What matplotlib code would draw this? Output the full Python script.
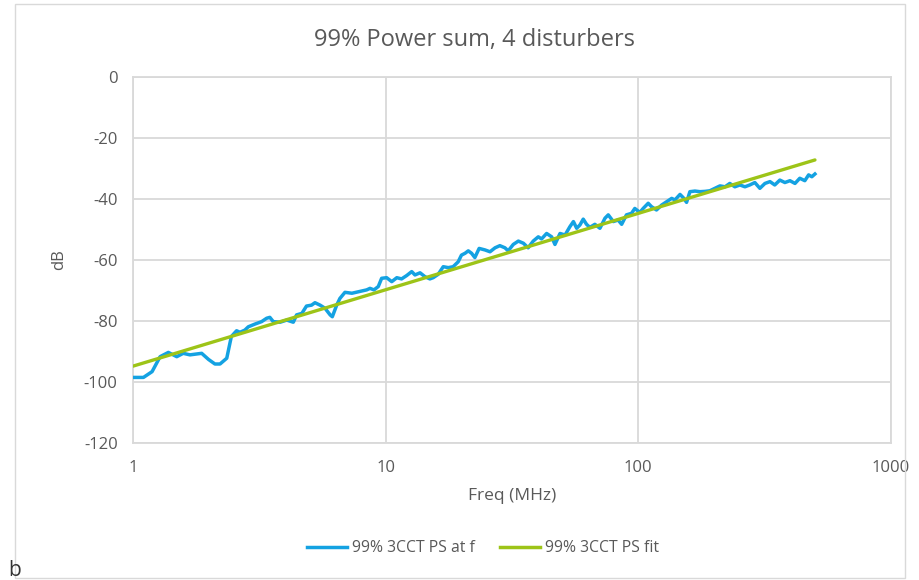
import matplotlib
matplotlib.use("Agg")
import matplotlib.pyplot as plt
from matplotlib.patches import Rectangle
from matplotlib.lines import Line2D

plt.rcParams['font.family'] = ['Open Sans', 'DejaVu Sans']
plt.rcParams['axes.unicode_minus'] = False

title = "99% Power sum, 4 disturbers"
x_label = "Freq (MHz)"
y_label = "dB"
series_names = ["99% 3CCT PS at f", "99% 3CCT PS fit"]

freq_mhz = [1.00, 1.10, 1.19, 1.28, 1.38, 1.49, 1.58, 1.68, 1.87, 1.99, 2.11, 2.21,
            2.35, 2.45, 2.57, 2.65, 2.77, 2.86, 3.04, 3.23, 3.38, 3.48, 3.59, 3.82,
            4.06, 4.31, 4.44, 4.66, 4.86, 5.09, 5.25, 5.50, 5.75, 6.03, 6.15, 6.40,
            6.59, 6.90, 7.35, 7.80, 8.41, 8.67, 8.99, 9.35, 9.64, 10.09, 10.57, 11.07,
            11.56, 12.11, 12.68, 13.06, 13.68, 14.32, 14.96, 15.42, 16.14, 16.90, 17.70,
            18.49, 19.36, 19.95, 20.61, 21.23, 21.88, 22.54, 23.44, 24.72, 25.88, 27.10,
            28.31, 29.65, 30.55, 31.99, 33.50, 35.08, 36.64, 38.37, 40.18, 41.40, 43.35,
            45.39, 46.77, 48.98, 51.29, 53.58, 55.34, 57.02, 58.75, 60.53, 62.37, 64.27,
            67.30, 70.47, 73.79, 76.03, 79.62, 83.18, 85.90, 89.74, 93.97, 96.83, 101.4,
            104.5, 109.4, 112.7, 118.0, 123.6, 129.4, 135.5, 139.6, 146.2, 150.7, 155.2,
            160.0, 167.5, 175.4, 183.7, 191.9, 200.9, 210.4, 220.3, 230.1, 241.0, 252.3,
            264.2, 276.1, 289.1, 302.7, 317.0, 331.9, 346.7, 363.1, 380.2, 398.1, 416.9,
            435.5, 456.0, 472.0, 486.0, 500.0]
ps_db = [-98.5, -98.5, -96.6, -91.7, -90.3, -91.7, -90.6, -91.1, -90.6, -92.6, -94.1, -94.1,
         -92.2, -85.1, -83.2, -83.7, -83.0, -81.9, -81.0, -80.2, -79.1, -78.8, -80.2, -80.4,
         -79.7, -80.4, -78.0, -77.5, -75.1, -74.8, -74.0, -74.8, -75.8, -78.0, -78.6, -74.8,
         -72.6, -70.6, -70.9, -70.4, -69.8, -69.3, -69.8, -68.7, -66.0, -65.8, -67.1, -65.8,
         -66.2, -65.1, -63.8, -64.9, -64.2, -65.5, -66.2, -65.8, -64.7, -62.2, -62.5,
         -62.2, -60.6, -58.4, -57.8, -57.0, -57.8, -59.2, -56.2, -56.7, -57.3, -56.0,
         -55.3, -56.0, -57.0, -54.9, -53.8, -54.5, -56.0, -53.8, -52.4, -53.1, -51.3,
         -52.4, -54.9, -51.3, -51.8, -49.1, -47.4, -49.6, -48.5, -46.6, -48.3, -49.3,
         -48.3, -49.6, -46.3, -45.2, -47.4, -46.9, -48.3, -45.2, -44.7, -43.1, -44.4,
         -43.1, -41.4, -42.5, -43.6, -42.0, -40.9, -39.8, -40.3, -38.5, -39.6, -41.1,
         -37.6, -37.4, -37.6, -37.5, -37.3, -36.5, -35.7, -36.0, -34.9, -36.0, -35.4,
         -36.0, -35.4, -34.6, -36.5, -34.9, -34.3, -35.4, -33.8, -34.6, -34.0, -34.9,
         -33.2, -34.0, -32.1, -32.7, -31.8]

fit_freq_mhz = [1.0, 500.0]
fit_db = [-94.8, -27.2]

x_ticks = [1, 10, 100, 1000]
x_tick_labels = ["1", "10", "100", "1000"]
y_ticks = [0, -20, -40, -60, -80, -100, -120]

blue = '#14A2E2'
green = '#9DC418'
grid_c = '#D9D9D9'
text_c = '#595959'

fig = plt.figure(figsize=(9.2, 5.8), dpi=100)
fig.patches.append(Rectangle((15/920, 1-578/580), 890/920, 574/580, transform=fig.transFigure,
                             fill=False, edgecolor='#D9D9D9', linewidth=1.0))
ax = fig.add_axes([133/920, 1-443/580, (891-133)/920, (443-77)/580])
ax.plot(freq_mhz, ps_db, color=blue, linewidth=2.5, solid_joinstyle='round', zorder=3)
ax.plot(fit_freq_mhz, fit_db, color=green, linewidth=2.4, solid_capstyle='round', zorder=4)
ax.set_xscale('log')
ax.set_xlim(1, 1000)
ax.set_ylim(-120, 0)
ax.set_xticks(x_ticks)
ax.set_xticklabels(x_tick_labels)
ax.minorticks_off()
ax.set_yticks(y_ticks)
ax.grid(True, color=grid_c, linewidth=1.3)
ax.set_axisbelow(True)
for s in ax.spines.values():
    s.set_color(grid_c)
    s.set_linewidth(1.3)
ax.tick_params(length=0, labelsize=12, colors=text_c)
ax.tick_params(axis='y', pad=11)
ax.tick_params(axis='x', pad=12)
ax.set_xlabel(x_label, fontsize=12.5, color=text_c, labelpad=9)
ax.set_ylabel(y_label, fontsize=12, color=text_c, labelpad=12)

fig.text(475/920, 1-40/580, title, ha='center', va='center', fontsize=17, color=text_c)

handles = [Line2D([0], [0], color=blue, lw=2.5), Line2D([0], [0], color=green, lw=2.5)]
fig.legend(handles, series_names, loc='center', bbox_to_anchor=(483/920, 1-548/580), ncol=2,
           frameon=False, fontsize=11.3, labelcolor=text_c, handlelength=2.55,
           handletextpad=0.32, columnspacing=1.6)

fig.text(8/920, 1-571/580, "b", ha='left', va='center', fontsize=15, color='#333333')

fig.savefig('out.png', dpi=100)
